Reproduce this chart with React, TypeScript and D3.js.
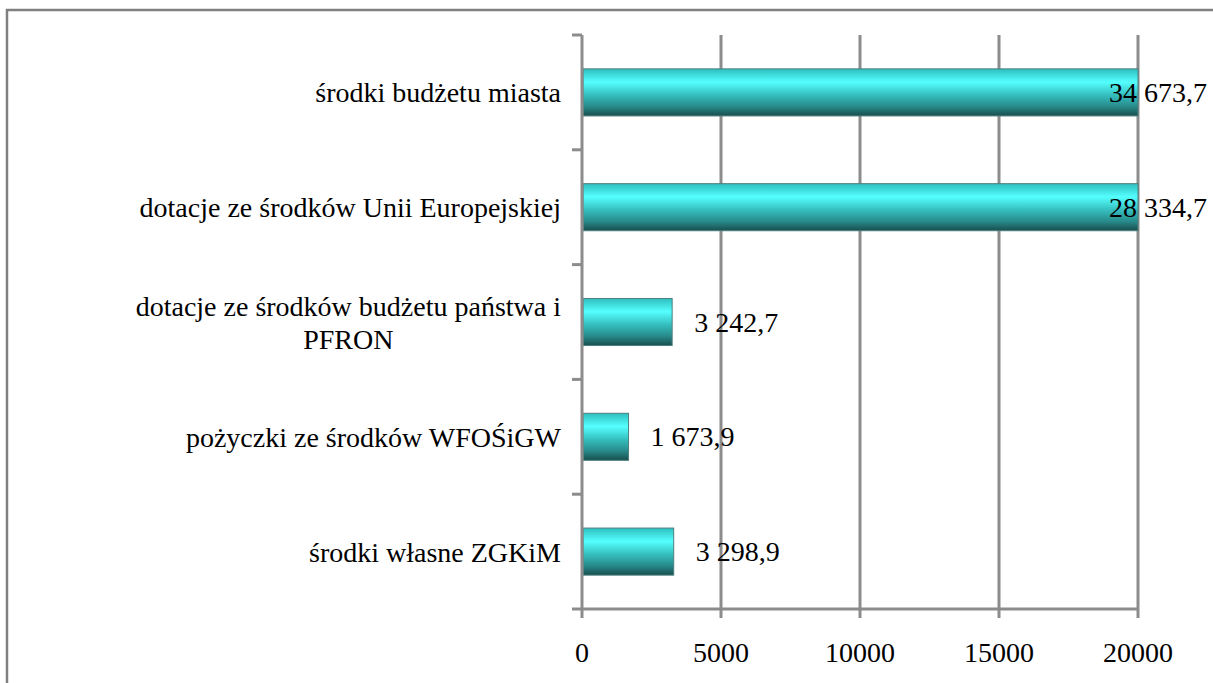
import { useEffect, useRef } from "react";
import * as d3 from "d3";

// Source categories (top to bottom) and values
const categories = [
  "środki budżetu miasta",
  "dotacje ze środków Unii Europejskiej",
  "dotacje ze środków budżetu państwa i\nPFRON",
  "pożyczki ze środków WFOŚiGW",
  "środki własne ZGKiM",
];
const values = [34673.7, 28334.7, 3242.7, 1673.9, 3298.9];
const valueLabels = ["34 673,7", "28 334,7", "3 242,7", "1 673,9", "3 298,9"];
const xTicks = [0, 5000, 10000, 15000, 20000];

const W = 1213;
const H = 683;
const FONT = "Tinos, 'Liberation Serif', 'DejaVu Serif', serif";
const FS = 28;

export default function App() {
  const svgRef = useRef<SVGSVGElement | null>(null);

  useEffect(() => {
    const svgEl = svgRef.current;
    if (!svgEl) return;
    const root = d3.select(svgEl);
    root.selectAll("*").remove();

    const left = 582;
    const right = 1138;
    const top = 35;
    const bottom = 609;

    const x = d3.scaleLinear().domain([0, 20000]).range([left, right]);
    const y = d3
      .scaleBand<string>()
      .domain(categories)
      .range([top, bottom])
      .paddingInner(0.59)
      .paddingOuter(0.295);

    // gradient for bars
    const defs = root.append("defs");
    const grad = defs
      .append("linearGradient")
      .attr("id", "barGrad")
      .attr("x1", 0)
      .attr("y1", 0)
      .attr("x2", 0)
      .attr("y2", 1);
    [
      ["0%", "#2ebebe"],
      ["28%", "#55ffff"],
      ["55%", "#36c0c0"],
      ["80%", "#278a8a"],
      ["100%", "#194e4e"],
    ].forEach(([o, c]) => grad.append("stop").attr("offset", o).attr("stop-color", c));

    // outer frame
    root
      .append("path")
      .attr("d", `M7,${H} V10 H${W}`)
      .attr("fill", "none")
      .attr("stroke", "#808080")
      .attr("stroke-width", 2.5);

    const g = root.append("g");

    // vertical gridlines
    g.selectAll("line.grid")
      .data(xTicks.slice(1))
      .join("line")
      .attr("class", "grid")
      .attr("x1", (d) => x(d))
      .attr("x2", (d) => x(d))
      .attr("y1", top)
      .attr("y2", bottom)
      .attr("stroke", "#8c8c8c")
      .attr("stroke-width", 3);

    // bars (clipped at the axis maximum)
    const maxV = x.domain()[1];
    g.selectAll("rect.bar")
      .data(categories)
      .join("rect")
      .attr("class", "bar")
      .attr("x", x(0) + 1)
      .attr("y", (d) => y(d)!)
      .attr("width", (_, i) => x(Math.min(values[i], maxV)) - x(0) - 1)
      .attr("height", y.bandwidth())
      .attr("fill", "url(#barGrad)")
      .attr("stroke", "#4e7f7f")
      .attr("stroke-width", 1);

    // axes lines
    g.append("line")
      .attr("x1", left)
      .attr("x2", left)
      .attr("y1", top)
      .attr("y2", bottom + 1)
      .attr("stroke", "#8c8c8c")
      .attr("stroke-width", 3);
    g.append("line")
      .attr("x1", left)
      .attr("x2", right)
      .attr("y1", bottom)
      .attr("y2", bottom)
      .attr("stroke", "#8c8c8c")
      .attr("stroke-width", 3);

    // category ticks (band boundaries)
    const step = y.step();
    const bounds = d3.range(categories.length + 1).map((i) => top + i * step);
    g.selectAll("line.ytick")
      .data(bounds)
      .join("line")
      .attr("class", "ytick")
      .attr("x1", left - 10)
      .attr("x2", left)
      .attr("y1", (d) => d)
      .attr("y2", (d) => d)
      .attr("stroke", "#8c8c8c")
      .attr("stroke-width", 3);

    // x ticks
    g.selectAll("line.xtick")
      .data(xTicks)
      .join("line")
      .attr("class", "xtick")
      .attr("x1", (d) => x(d))
      .attr("x2", (d) => x(d))
      .attr("y1", bottom)
      .attr("y2", bottom + 9)
      .attr("stroke", "#8c8c8c")
      .attr("stroke-width", 3);

    g.selectAll("text.xlab")
      .data(xTicks)
      .join("text")
      .attr("class", "xlab")
      .attr("x", (d) => x(d))
      .attr("y", 662)
      .attr("text-anchor", "middle")
      .style("font-family", FONT)
      .style("font-size", `${FS}px`)
      .attr("fill", "#000")
      .text((d) => String(d));

    // category labels (multi-line centred, right-aligned block)
    const labelRight = 561;
    const lineH = 33;
    categories.forEach((c) => {
      const lines = c.split("\n");
      const cy = y(c)! + y.bandwidth() / 2;
      const t = g
        .append("text")
        .style("font-family", FONT)
        .style("font-size", `${FS}px`)
        .attr("fill", "#000")
        .attr("text-anchor", "middle")
        .attr("dominant-baseline", "central");
      const spans = lines.map((ln, i) =>
        t
          .append("tspan")
          .attr("y", cy + (i - (lines.length - 1) / 2) * lineH)
          .text(ln)
      );
      const maxW = d3.max(spans, (s) => (s.node() as SVGTSpanElement).getComputedTextLength()) ?? 0;
      spans.forEach((s) => s.attr("x", labelRight - maxW / 2));
    });

    // value labels
    const labelLimit = 1207;
    categories.forEach((c, i) => {
      const cy = y(c)! + y.bandwidth() / 2;
      const t = g
        .append("text")
        .style("font-family", FONT)
        .style("font-size", `${FS}px`)
        .attr("fill", "#000")
        .attr("dominant-baseline", "central")
        .attr("y", cy)
        .text(valueLabels[i]);
      const w = (t.node() as SVGTextElement).getComputedTextLength();
      const start = Math.min(x(Math.min(values[i], maxV)) + 22, labelLimit - w);
      t.attr("x", start);
    });
  }, []);

  return (
    <svg
      ref={svgRef}
      width={W}
      height={H}
      style={{ position: "absolute", left: 0, top: 0, background: "#fff" }}
    />
  );
}
